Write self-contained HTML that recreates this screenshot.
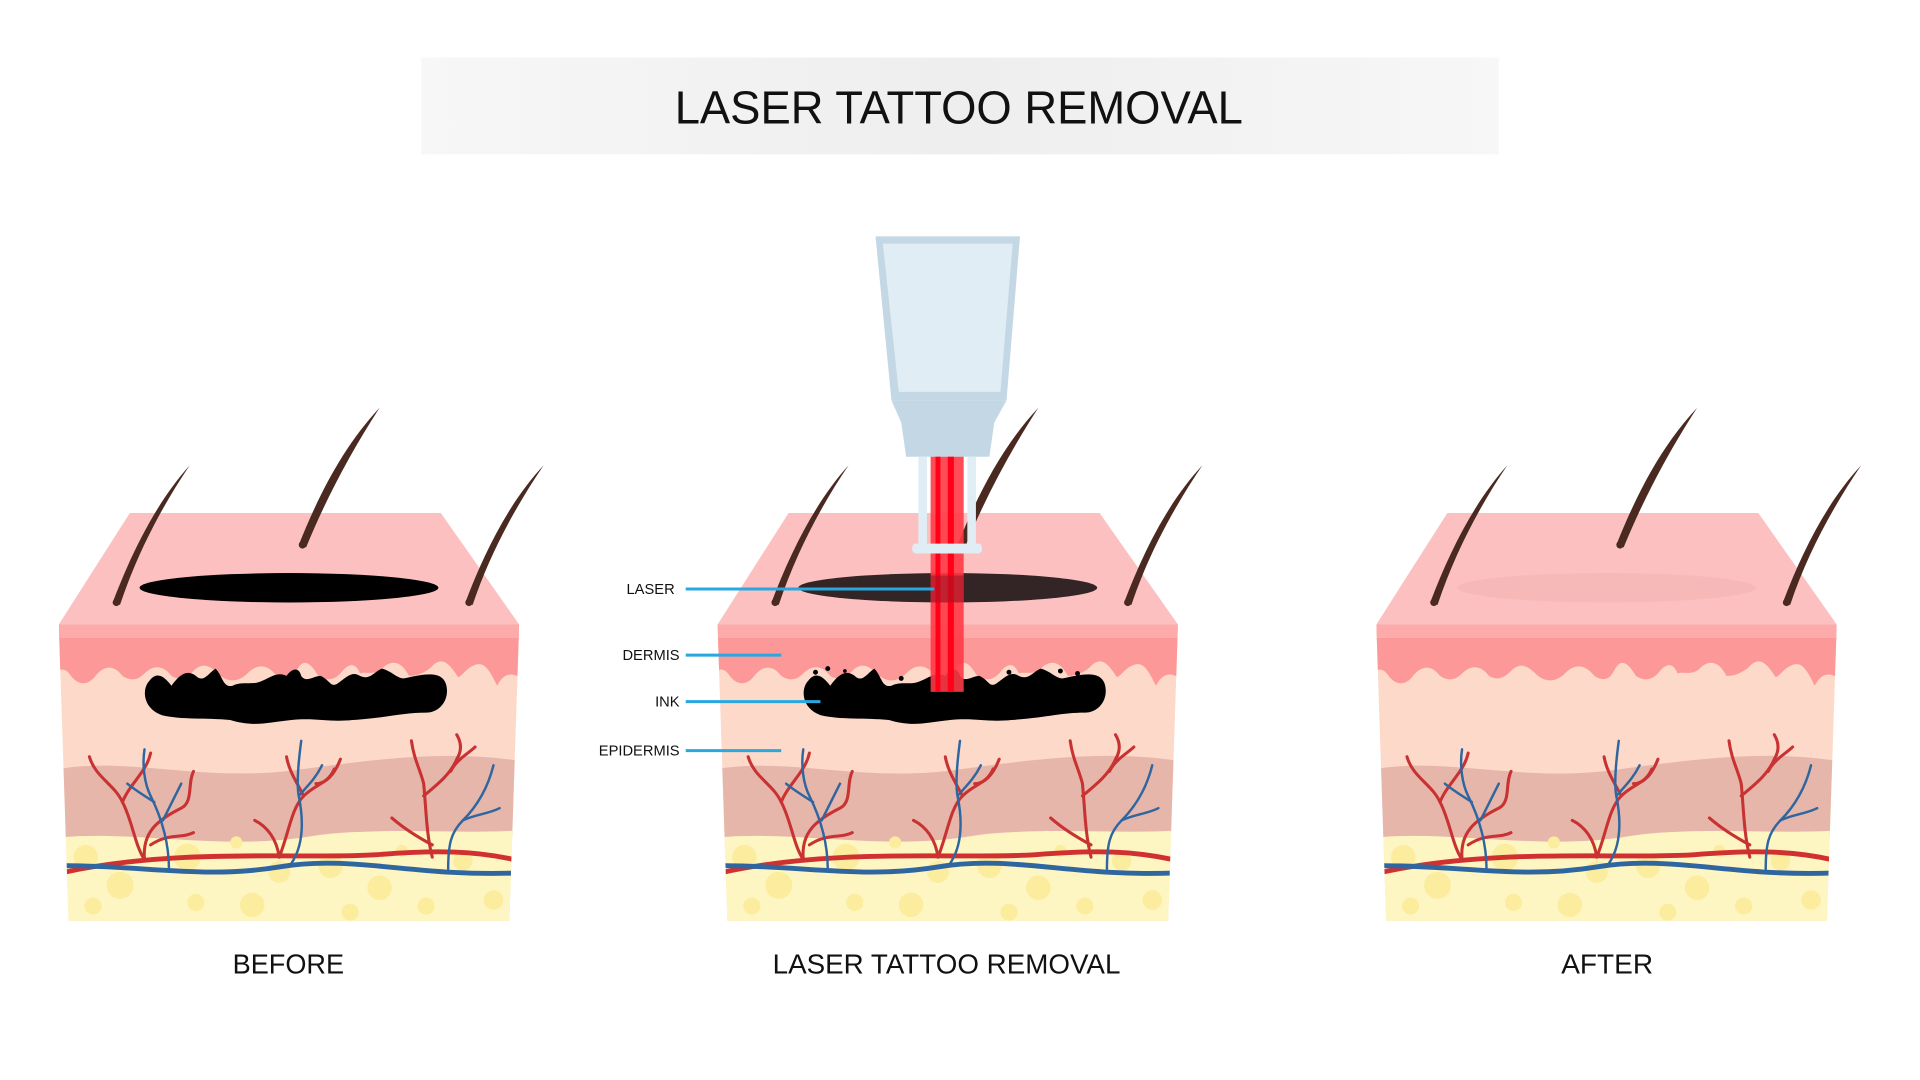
<!DOCTYPE html>
<html><head><meta charset="utf-8"><style>
html,body{margin:0;padding:0;background:#fff;}
svg{display:block;}
text{font-family:"Liberation Sans",sans-serif;}
</style></head><body>
<svg width="1920" height="1080" viewBox="0 0 1568 882" xmlns="http://www.w3.org/2000/svg">
<defs>
<linearGradient id="tb" x1="0" x2="1" y1="0" y2="0">
<stop offset="0" stop-color="#f7f7f7"/><stop offset="0.5" stop-color="#eeeeee"/><stop offset="1" stop-color="#f7f7f7"/>
</linearGradient>
<clipPath id="body"><path d="M0,510 L376,510 L368,752 L8,752 Z"/></clipPath>
<g id="hairs" fill="#4a2a20">
<path d="M44,492 C60,450 80,410 107,380 C84,414 64,452 50,494 Z"/>
<path d="M196,445 C212,405 232,365 262,333 C238,370 218,408 202,447 Z"/>
<path d="M332,492 C348,450 368,410 396,380 C373,414 352,452 338,494 Z"/>
<circle cx="47" cy="492" r="3"/><circle cx="199" cy="445" r="3"/><circle cx="335" cy="492" r="3"/>
</g>
<path id="blob" d="M74,556 C80,548 86,552 92,560 C98,552 104,546 112,552 C118,558 122,550 128,546 C134,552 134,562 142,560 C150,556 158,560 166,556 C172,554 178,548 186,552 C190,546 196,544 198,552 C202,558 208,552 214,552 C222,556 222,562 228,558 C236,552 240,548 246,552 C254,556 258,548 264,546 C272,548 276,554 282,554 C300,550 312,548 316,558 C320,570 312,582 300,582 C280,582 270,586 240,588 C220,590 210,586 190,588 C170,590 160,594 140,588 C120,586 100,588 84,584 C68,578 68,562 74,556 Z"/>
<g id="skin">
<path d="M58,419 L312,419 L376,510 L0,510 Z" fill="#fcc0c0"/>
<g clip-path="url(#body)">
<rect x="0" y="510" width="380" height="250" fill="#fdd9c9"/>
<rect x="0" y="510" width="380" height="12" fill="#fcaaaa"/>
<path d="M0,521 L376,521 L376,553 C368,548 362,552 358,560 C352,548 348,540 340,543 C332,546 330,552 326,553 C318,540 312,536 304,545 C298,550 292,552 286,552 C280,540 272,538 264,546 C258,552 250,548 246,550 C242,540 236,542 230,550 C224,556 218,556 212,552 C206,542 200,536 194,548 C190,556 184,556 178,552 C170,542 162,542 154,550 C148,556 140,558 132,552 C124,544 118,540 110,548 C104,554 98,556 92,552 C86,544 78,542 70,550 C64,556 58,556 52,552 C46,544 38,542 30,552 C24,560 16,560 10,552 C6,546 2,546 0,548 Z" fill="#fd9898"/>
<path d="M0,628 C60,618 120,640 200,628 C260,620 320,612 380,622 L380,682 C320,688 260,672 200,684 C130,694 60,680 0,684 Z" fill="#e6b6aa"/>
<path d="M0,684 C60,678 130,694 200,684 C260,674 320,682 380,678 L380,760 L0,760 Z" fill="#fef6c2"/>
<g fill="#fcec9e">
<circle cx="22" cy="700" r="10"/><circle cx="50" cy="723" r="11"/><circle cx="28" cy="740" r="7"/><circle cx="105" cy="700" r="11"/><circle cx="112" cy="737" r="7"/><circle cx="158" cy="739" r="10"/><circle cx="180" cy="712" r="9"/><circle cx="222" cy="707" r="10"/><circle cx="262" cy="725" r="10"/><circle cx="238" cy="745" r="7"/><circle cx="300" cy="740" r="7"/><circle cx="330" cy="703" r="8"/><circle cx="355" cy="735" r="8"/><circle cx="145" cy="688" r="5"/><circle cx="280" cy="695" r="5"/>
</g>
<g fill="none" stroke-linecap="round">
<path d="M6,712 C100,692 200,702 260,698 C310,694 340,695 372,702" stroke="#d03030" stroke-width="4"/>
<path d="M6,707 C70,707 120,718 180,708 C240,698 290,716 372,713" stroke="#2f66a0" stroke-width="4"/>
<g stroke="#c83232" stroke-width="2.5">
<path d="M70,702 C62,690 60,670 52,655 C45,640 30,635 25,618"/><path d="M52,655 C58,640 72,630 75,615"/><path d="M70,702 C68,680 80,670 100,660 C110,655 105,640 110,630"/><path d="M75,690 C90,680 100,685 110,680"/>
<path d="M180,700 C178,685 170,675 160,670"/><path d="M180,700 C188,680 190,660 200,650 C210,640 220,640 225,628"/><path d="M200,650 C195,640 188,630 186,618"/><path d="M210,640 C218,640 225,633 230,620"/>
<path d="M305,700 C300,680 300,660 298,640 C295,628 290,620 288,605"/><path d="M298,650 C310,640 320,632 325,620 C330,612 328,605 325,600"/><path d="M305,690 C290,682 280,675 272,668"/><path d="M320,630 C325,620 335,615 340,610"/>
</g>
<g stroke="#2f66a0" stroke-width="2">
<path d="M90,710 C90,690 85,670 75,650 C70,640 68,625 70,612"/><path d="M85,670 C90,660 95,650 100,640"/><path d="M78,655 C70,650 62,645 56,640"/>
<path d="M190,705 C200,690 200,670 196,650 C194,640 196,620 198,605"/><path d="M196,650 C205,640 210,635 215,625"/>
<path d="M318,710 C318,690 320,680 330,670 C340,660 350,645 355,625"/><path d="M330,670 C340,665 350,665 360,660"/>
</g>
</g>
</g>
</g>
</defs>

<rect x="344" y="47" width="880" height="79" fill="url(#tb)"/>
<text x="551" y="101" font-size="38" textLength="464" lengthAdjust="spacingAndGlyphs" fill="#111">LASER TATTOO REMOVAL</text>

<!-- BEFORE -->
<g transform="translate(48,0)">
<use href="#skin"/>
<ellipse cx="188" cy="480" rx="122" ry="12" fill="#000"/>
<use href="#blob" fill="#000"/>
<use href="#hairs"/>
</g>
<text x="190" y="795" font-size="23" textLength="91" lengthAdjust="spacingAndGlyphs" fill="#111">BEFORE</text>

<!-- MIDDLE -->
<g transform="translate(586,0)">
<use href="#skin"/>
<ellipse cx="188" cy="480" rx="122" ry="12" fill="#332525"/>
<use href="#blob" fill="#000"/>
<g fill="#000"><circle cx="80" cy="549" r="2"/><circle cx="90" cy="546" r="2"/><circle cx="104" cy="548" r="1.5"/><circle cx="150" cy="554" r="2"/><circle cx="196" cy="552" r="2"/><circle cx="238" cy="549" r="2"/><circle cx="260" cy="552" r="2"/><circle cx="280" cy="548" r="2"/><circle cx="294" cy="550" r="2"/><circle cx="132" cy="556" r="2"/></g>
<use href="#hairs"/>
</g>
<!-- laser device -->
<path d="M715,193 L833,193 L822,327 L728,327 Z" fill="#c3d8e4"/>
<path d="M721,199 L827,199 L817,320 L734,320 Z" fill="#e0edf5"/>
<path d="M728,327 L822,327 L812,345 L808,373 L740,373 L736,345 Z" fill="#c3d8e4"/>
<rect x="760" y="373" width="27" height="192" fill="#ff3a46" opacity="0.9"/>
<rect x="764" y="373" width="4" height="192" fill="#ff0018"/>
<rect x="774" y="373" width="5" height="192" fill="#ff0018"/>
<rect x="760" y="470" width="27" height="22" fill="#a01020" opacity="0.55"/>
<rect x="750" y="373" width="7" height="74" fill="#e0edf5"/>
<rect x="790" y="373" width="7" height="74" fill="#e0edf5"/>
<rect x="745" y="444" width="57" height="8" rx="3" fill="#e0edf5"/>
<!-- labels -->
<g font-size="12" fill="#111" text-anchor="end">
<text x="551" y="485">LASER</text>
<text x="555" y="539">DERMIS</text>
<text x="555" y="577">INK</text>
<text x="555" y="617">EPIDERMIS</text>
</g>
<g stroke="#29a8e0" stroke-width="2.5">
<line x1="560" y1="481" x2="763" y2="481"/>
<line x1="560" y1="535" x2="638" y2="535"/>
<line x1="560" y1="573" x2="670" y2="573"/>
<line x1="560" y1="613" x2="638" y2="613"/>
</g>
<text x="631" y="795" font-size="23" textLength="284" lengthAdjust="spacingAndGlyphs" fill="#111">LASER TATTOO REMOVAL</text>

<!-- AFTER -->
<g transform="translate(1124,0)">
<use href="#skin"/>
<ellipse cx="188" cy="480" rx="122" ry="12" fill="#f7b8b8"/>
<use href="#hairs"/>
</g>
<text x="1275" y="795" font-size="23" textLength="75" lengthAdjust="spacingAndGlyphs" fill="#111">AFTER</text>
</svg>
</body></html>
